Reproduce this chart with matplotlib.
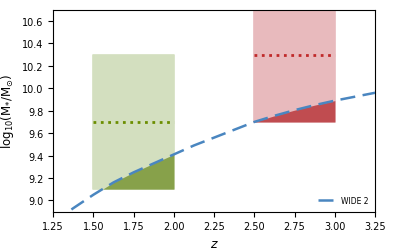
import numpy as np
import matplotlib.pyplot as plt

# WIDE 2 mass limit curve
z_curve = np.array([1.25, 1.375, 1.5, 1.625, 1.75, 1.875, 2.0, 2.125, 2.25,
                    2.375, 2.5, 2.625, 2.75, 2.875, 3.0, 3.125, 3.25])
m_curve = np.array([8.80, 8.93, 9.05, 9.16, 9.25, 9.33, 9.41, 9.49, 9.56,
                    9.63, 9.70, 9.755, 9.805, 9.85, 9.89, 9.925, 9.96])

# selection boxes: z range, mass range, median line
box_z = [(1.5, 2.0), (2.5, 3.0)]
box_m = [(9.1, 10.3), (9.7, 10.9)]
box_mid = [9.7, 10.3]
light_col = ['#d3dfbf', '#e8babd']
dark_col = ['#87a14a', '#c04c50']
dot_col = ['#6b8e00', '#c02a2a']

fig, ax = plt.subplots(figsize=(3.94, 2.53), dpi=100)

for i in range(2):
    z0, z1 = box_z[i]
    m0, m1 = box_m[i]
    ax.fill_between([z0, z1], m0, m1, color=light_col[i], edgecolor=light_col[i], lw=1.2, zorder=1)
    ax.plot([z0, z1], [box_mid[i], box_mid[i]], ls=':', lw=2, color=dot_col[i], zorder=3)
    sel = (z_curve >= z0) & (z_curve <= z1)
    ax.fill_between(z_curve[sel], m0, m_curve[sel], where=m_curve[sel] >= m0,
                    interpolate=True, color=dark_col[i], lw=0, zorder=2)

ax.plot(z_curve, m_curve, ls='--', dashes=(6, 3), lw=1.8, color='#4a86c0', label='WIDE 2', zorder=4)

ax.set_xlim(1.25, 3.25)
ax.set_ylim(8.9, 10.7)
ax.set_xticks([1.25, 1.5, 1.75, 2.0, 2.25, 2.5, 2.75, 3.0, 3.25])
ax.set_yticks(np.arange(9.0, 10.61, 0.2))
ax.tick_params(labelsize=7)
ax.set_xlabel('$z$', fontsize=9)
ax.set_ylabel(r'log$_{10}$(M$_{*}$/M$_{\odot}$)', fontsize=8.5)
ax.legend(loc='lower right', frameon=False, fontsize=5.5, handlelength=2.2)

fig.subplots_adjust(left=0.135, right=0.952, top=0.957, bottom=0.16)
fig.savefig('out.png', dpi=100)
